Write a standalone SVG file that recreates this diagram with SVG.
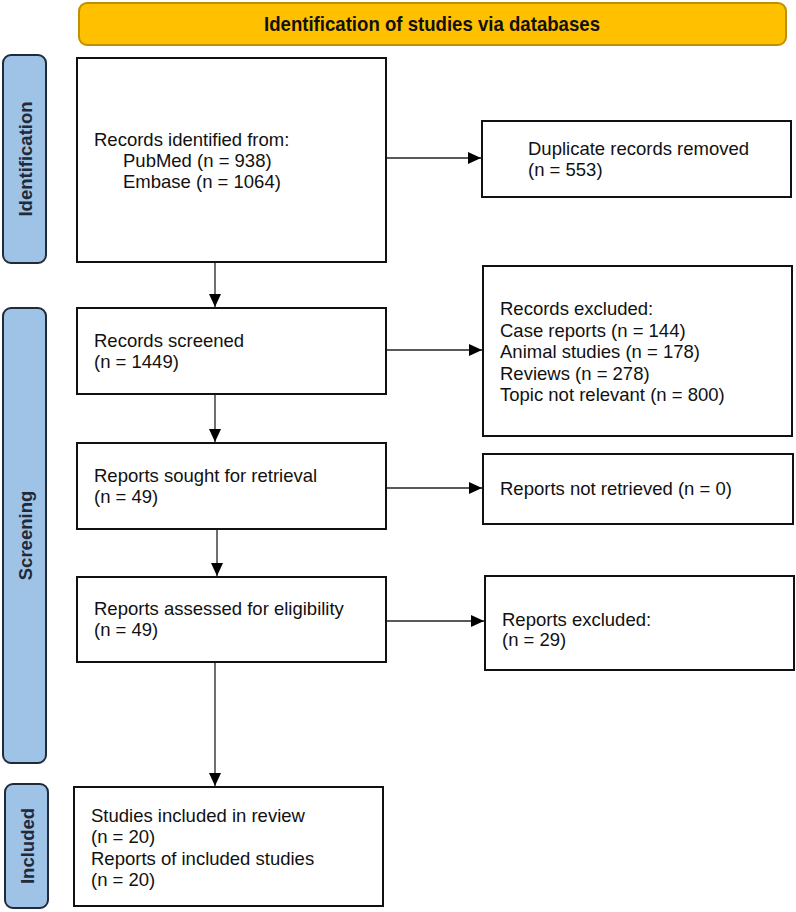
<svg xmlns="http://www.w3.org/2000/svg" width="796" height="912" viewBox="0 0 796 912">
<defs>
<style>
.box{fill:#ffffff;stroke:#111111;stroke-width:2}
.lab{fill:#9fc3e7;stroke:#1f2a3a;stroke-width:2}
.t{font-family:"Liberation Sans",Arial,sans-serif;font-size:18.5px;fill:#111111}
.lt{font-family:"Liberation Sans",Arial,sans-serif;font-size:18.5px;font-weight:bold;fill:#1f2a3a;text-anchor:middle}
.conn{stroke:#222222;stroke-width:1.3;fill:none;marker-end:url(#ah)}
</style>
<marker id="ah" markerUnits="userSpaceOnUse" markerWidth="14" markerHeight="12" refX="13" refY="6" orient="auto">
<path d="M0,0 L13,6 L0,12 Z" fill="#000000"/>
</marker>
</defs>
<rect width="796" height="912" fill="#ffffff"/>

<g id="title">
<rect x="79" y="3" width="707" height="42" rx="8" fill="#ffc000" stroke="#bf9000" stroke-width="2"/>
<text x="432" y="31" font-family="'Liberation Sans',Arial,sans-serif" font-size="20.5" font-weight="bold" text-anchor="middle" fill="#111111" textLength="336" lengthAdjust="spacingAndGlyphs">Identification of studies via databases</text>
</g>

<g id="label-identification">
<rect class="lab" x="3" y="55" width="43" height="208" rx="8"/>
<text class="lt" transform="translate(31.5,159) rotate(-90)">Identification</text>
</g>
<g id="label-screening">
<rect class="lab" x="3" y="308" width="43" height="455" rx="8"/>
<text class="lt" transform="translate(31.5,535.5) rotate(-90)">Screening</text>
</g>
<g id="label-included">
<rect class="lab" x="5" y="784" width="43" height="124" rx="8"/>
<text class="lt" transform="translate(33.5,846) rotate(-90)">Included</text>
</g>

<g id="records-identified">
<rect class="box" x="77" y="58" width="309" height="204"/>
<text class="t" x="94" y="146">Records identified from:</text>
<text class="t" x="123" y="167">PubMed (n = 938)</text>
<text class="t" x="123" y="188">Embase (n = 1064)</text>
</g>

<g id="duplicates-removed">
<rect class="box" x="482" y="121" width="309" height="76"/>
<text class="t" x="528" y="155">Duplicate records removed</text>
<text class="t" x="528" y="176">(n = 553)</text>
</g>

<g id="records-screened">
<rect class="box" x="77" y="308" width="309" height="86"/>
<text class="t" x="94" y="347">Records screened</text>
<text class="t" x="94" y="368">(n = 1449)</text>
</g>

<g id="records-excluded">
<rect class="box" x="483" y="266" width="309" height="170"/>
<text class="t" x="500" y="315">Records excluded:</text>
<text class="t" x="500" y="336.5">Case reports (n = 144)</text>
<text class="t" x="500" y="358">Animal studies (n = 178)</text>
<text class="t" x="500" y="379.5">Reviews (n = 278)</text>
<text class="t" x="500" y="401">Topic not relevant (n = 800)</text>
</g>

<g id="reports-sought">
<rect class="box" x="77" y="443" width="309" height="86"/>
<text class="t" x="94" y="482">Reports sought for retrieval</text>
<text class="t" x="94" y="503">(n = 49)</text>
</g>

<g id="reports-not-retrieved">
<rect class="box" x="483" y="454" width="310" height="70"/>
<text class="t" x="500" y="495">Reports not retrieved (n = 0)</text>
</g>

<g id="reports-assessed">
<rect class="box" x="77" y="577" width="309" height="85"/>
<text class="t" x="94" y="615">Reports assessed for eligibility</text>
<text class="t" x="94" y="636">(n = 49)</text>
</g>

<g id="reports-excluded">
<rect class="box" x="485" y="576" width="309" height="94"/>
<text class="t" x="502" y="626">Reports excluded:</text>
<text class="t" x="502" y="646">(n = 29)</text>
</g>

<g id="included">
<rect class="box" x="74" y="787" width="309" height="119"/>
<text class="t" x="91" y="822">Studies included in review</text>
<text class="t" x="91" y="843">(n = 20)</text>
<text class="t" x="91" y="864.5">Reports of included studies</text>
<text class="t" x="91" y="886">(n = 20)</text>
</g>

<g id="connectors">
<line class="conn" x1="215" y1="263" x2="215" y2="307"/>
<line class="conn" x1="387" y1="158" x2="481" y2="158"/>
<line class="conn" x1="215" y1="395" x2="215" y2="442"/>
<line class="conn" x1="387" y1="350" x2="482" y2="350"/>
<line class="conn" x1="217" y1="530" x2="217" y2="576"/>
<line class="conn" x1="387" y1="488" x2="482" y2="488"/>
<line class="conn" x1="215" y1="663" x2="215" y2="786"/>
<line class="conn" x1="387" y1="621" x2="484" y2="621"/>
</g>
</svg>
